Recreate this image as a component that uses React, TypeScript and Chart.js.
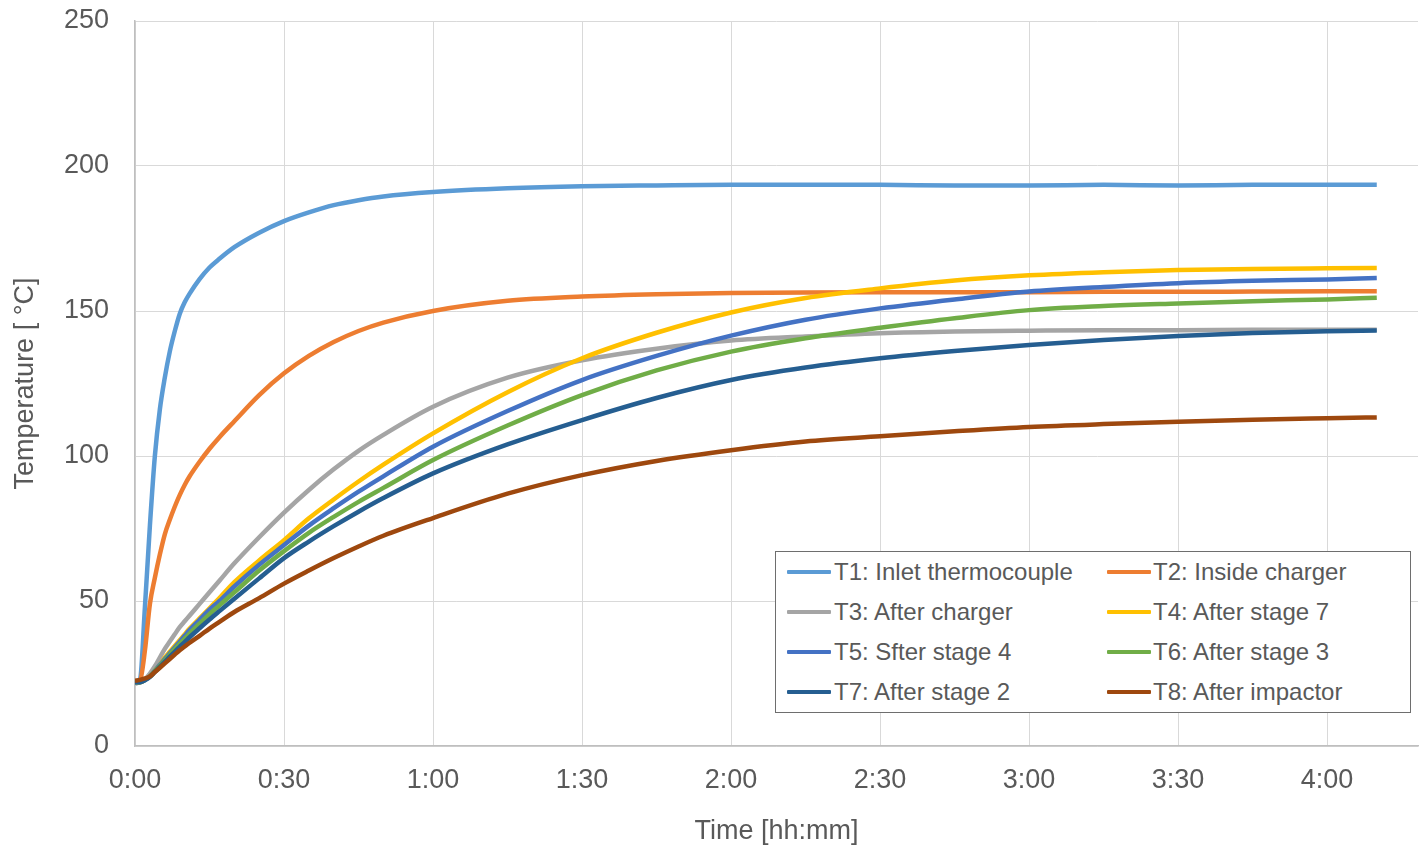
import React, { useEffect, useRef } from "react";
import { Chart, registerables } from "chart.js";

Chart.register(...registerables);

// time in minutes
const times = [0, 1, 2, 3, 4, 5, 6, 7, 8, 9, 10, 11, 13, 15, 17, 20, 25, 30, 35, 40, 45, 50, 60, 75, 90, 105, 120, 135, 150, 165, 180, 195, 210, 225, 240, 250];

const t1 = [22, 23, 48, 76, 100, 116, 127, 136, 143, 149, 153, 156, 161, 165, 168, 172, 177, 181, 184, 186.5, 188.2, 189.5, 191, 192.3, 193, 193.3, 193.5, 193.5, 193.5, 193.3, 193.3, 193.5, 193.3, 193.5, 193.5, 193.5];
const t2 = [22, 22.5, 33, 49, 58, 66, 73, 78, 82.5, 86.5, 90, 93, 98, 102.5, 106.5, 112, 121, 128.5, 134.5, 139.3, 143.1, 146, 150, 153.5, 155, 155.8, 156.2, 156.4, 156.5, 156.5, 156.5, 156.6, 156.6, 156.7, 156.8, 156.8];
const t3 = [21.5, 22, 23, 25, 27.5, 30.5, 33.5, 36, 38.5, 41, 43, 45, 49, 53, 57, 63, 72, 80.5, 88.3, 95.4, 101.8, 107.3, 117, 127, 133, 137, 139.8, 141.2, 142.3, 142.9, 143.2, 143.4, 143.4, 143.5, 143.5, 143.5];
const t4 = [22, 22, 22.8, 24, 26, 28, 30.5, 32.5, 34.5, 36.5, 38.5, 40.5, 44, 47.5, 51, 56.5, 64, 71, 78.5, 85, 91.2, 97, 107.8, 122, 133.7, 142.5, 149.5, 154.5, 157.8, 160.5, 162.3, 163.4, 164.1, 164.5, 164.7, 164.8];
const t5 = [22, 22, 22.8, 24, 26, 28, 30, 32, 34, 36, 38, 40, 43.5, 47, 50, 55, 62.5, 69.3, 76, 82, 87.7, 93, 103.2, 115.5, 126.2, 134.5, 141.5, 147, 150.9, 154, 156.7, 158.3, 159.6, 160.4, 160.9, 161.4];
const t6 = [22, 22, 22.8, 24, 25.8, 27.7, 29.6, 31.5, 33.4, 35.2, 37, 38.8, 42.2, 45.5, 48.5, 53, 60.5, 67.2, 73.5, 79, 84.2, 89, 98.6, 110.5, 121, 129.5, 136, 140.6, 144.2, 147.5, 150.3, 151.7, 152.6, 153.4, 154, 154.6];
const t7 = [22, 22, 22.7, 23.8, 25.5, 27.3, 29, 30.8, 32.5, 34.2, 35.8, 37.5, 40.6, 43.6, 46.5, 50.8, 57.8, 64.8, 70.5, 75.8, 80.8, 85.5, 94, 104, 112.4, 120, 126.2, 130.5, 133.7, 136.2, 138.3, 140, 141.4, 142.4, 143, 143.3];
const t8 = [22.5, 22.8, 23.3, 24, 25.5, 27, 28.5, 30, 31.5, 33, 34.3, 35.6, 38, 40.5, 42.8, 46.2, 51, 56, 60.5, 64.8, 68.8, 72.5, 78.6, 87, 93.4, 98.3, 102, 105, 106.8, 108.5, 110, 111, 111.8, 112.5, 113, 113.3];

const seriesNames = [
  "T1: Inlet thermocouple",
  "T2: Inside charger",
  "T3: After charger",
  "T4: After stage 7",
  "T5: Sfter stage 4",
  "T6: After stage 3",
  "T7: After stage 2",
  "T8: After impactor",
];
const seriesValues = [t1, t2, t3, t4, t5, t6, t7, t8];
const seriesColors = ["#5B9BD5", "#ED7D31", "#A5A5A5", "#FFC000", "#4472C4", "#70AD47", "#255E91", "#9E480E"];

const yTicks = [0, 50, 100, 150, 200, 250];
const xTickStep = 30;
const xMax = 258.3;

const FONT = "'Liberation Sans', Arial, sans-serif";
const TEXT = "#595959";

function fmtTime(v: number) {
  const h = Math.floor(v / 60);
  const m = Math.round(v % 60);
  return `${h}:${String(m).padStart(2, "0")}`;
}

export default function App() {
  const ref = useRef<HTMLCanvasElement | null>(null);

  useEffect(() => {
    if (!ref.current) return;
    const chart = new Chart(ref.current, {
      type: "line",
      data: {
        datasets: seriesValues.map((vals, i) => ({
          label: seriesNames[i],
          data: vals.map((v, j) => ({ x: times[j], y: v })),
          borderColor: seriesColors[i],
          backgroundColor: seriesColors[i],
          borderWidth: 4.5,
          pointRadius: 0,
          cubicInterpolationMode: "monotone" as const,
          order: 8 - i,
        })),
      },
      options: {
        responsive: false,
        animation: false,
        layout: { padding: { top: 21, right: 6, left: 0, bottom: 0 } },
        plugins: { legend: { display: false }, tooltip: { enabled: false } },
        scales: {
          x: {
            type: "linear",
            min: 0,
            max: xMax,
            afterFit: (s: any) => { s.height = 106; s.paddingLeft = 0; s.paddingRight = 0; },
            ticks: {
              stepSize: xTickStep,
              includeBounds: false,
              color: TEXT,
              font: { family: FONT, size: 27 },
              padding: 18,
              maxRotation: 0,
              callback: (v: any) => fmtTime(Number(v)),
            },
            grid: { color: "#D9D9D9", lineWidth: 1, drawTicks: false },
            border: { color: "#BFBFBF", width: 1.5 },
            title: {
              display: true,
              text: "Time [hh:mm]",
              color: TEXT,
              font: { family: FONT, size: 27 },
              padding: { top: 0, bottom: 4 },
            },
          },
          y: {
            type: "linear",
            min: yTicks[0],
            max: yTicks[yTicks.length - 1],
            afterFit: (s: any) => { s.width = 135; s.paddingTop = 0; s.paddingBottom = 0; },
            afterBuildTicks: (s: any) => { s.ticks = yTicks.map((v) => ({ value: v })); },
            ticks: {
              color: TEXT,
              font: { family: FONT, size: 27 },
              padding: 26,
            },
            grid: { color: "#D9D9D9", lineWidth: 1, drawTicks: false },
            border: { color: "#BFBFBF", width: 1.5 },
            title: {
              display: true,
              text: "Temperature [ °C]",
              color: TEXT,
              font: { family: FONT, size: 27 },
              padding: { top: 9, bottom: 0 },
            },
          },
        },
      },
    });
    return () => chart.destroy();
  }, []);

  const rowY = [20, 60, 100, 140];
  const colLine = [11, 331];
  const colText = [58, 377];

  return (
    <div style={{ position: "fixed", left: 0, top: 0, width: 1424, height: 852, background: "#fff" }}>
      <canvas ref={ref} width={1424} height={852} style={{ display: "block" }} />
      <div
        style={{
          position: "absolute",
          left: 775,
          top: 551,
          width: 636,
          height: 162,
          boxSizing: "border-box",
          border: "1.5px solid #6E6E6E",
          background: "#fff",
          fontFamily: FONT,
          fontSize: 24,
          color: TEXT,
        }}
      >
        {seriesNames.map((name, i) => {
          const col = i % 2;
          const row = Math.floor(i / 2);
          return (
            <React.Fragment key={name}>
              <div
                style={{
                  position: "absolute",
                  left: colLine[col],
                  top: rowY[row] - 2,
                  width: 44,
                  height: 4,
                  background: seriesColors[i],
                  borderRadius: 1,
                }}
              />
              <div
                style={{
                  position: "absolute",
                  left: colText[col],
                  top: rowY[row] - 14,
                  lineHeight: "28px",
                  whiteSpace: "nowrap",
                }}
              >
                {name}
              </div>
            </React.Fragment>
          );
        })}
      </div>
    </div>
  );
}
